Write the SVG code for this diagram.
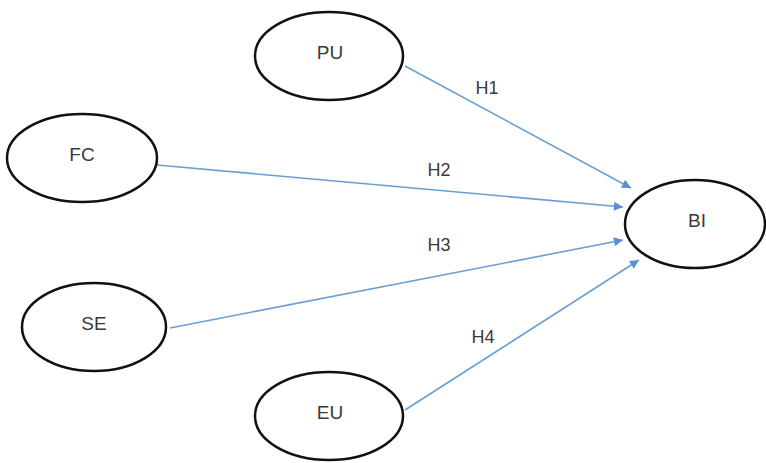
<svg xmlns="http://www.w3.org/2000/svg" width="766" height="463" viewBox="0 0 766 463">
<style>
.node ellipse{fill:#fff;stroke:#111;stroke-width:2.5}
.node text{font-family:"Liberation Sans","DejaVu Sans",sans-serif;font-size:19px;fill:#3a3a3a;text-anchor:middle;dominant-baseline:central}
.conn line{stroke:#6a9fd4;stroke-width:1.6;marker-end:url(#ah)}
.lbl{font-family:"Liberation Sans","DejaVu Sans",sans-serif;font-size:18px;fill:#3a3a3a;text-anchor:middle;dominant-baseline:central}
</style>
<defs>
<marker id="ah" viewBox="0 0 10 10" refX="10" refY="5" markerWidth="10" markerHeight="9" markerUnits="userSpaceOnUse" orient="auto">
<path d="M0,0 L10,5 L0,10 z" fill="#5b8fd0"/>
</marker>
</defs>
<rect width="766" height="463" fill="#fff"/>
<g id="connectors" class="conn">
<line x1="405" y1="66" x2="631" y2="188"/>
<line x1="157" y1="165" x2="623" y2="207"/>
<line x1="170" y1="328" x2="623" y2="240"/>
<line x1="405" y1="410" x2="639" y2="260"/>
</g>
<g id="labels">
<text class="lbl" x="487" y="88">H1</text>
<text class="lbl" x="439" y="170">H2</text>
<text class="lbl" x="439" y="245">H3</text>
<text class="lbl" x="483" y="337">H4</text>
</g>
<g id="PU" class="node"><ellipse cx="329" cy="56" rx="74" ry="44"/><text x="330" y="52">PU</text></g>
<g id="FC" class="node"><ellipse cx="82" cy="158" rx="75" ry="44"/><text x="82" y="154">FC</text></g>
<g id="SE" class="node"><ellipse cx="94" cy="327" rx="72" ry="44"/><text x="94" y="323">SE</text></g>
<g id="EU" class="node"><ellipse cx="329" cy="416" rx="74" ry="44"/><text x="330" y="412">EU</text></g>
<g id="BI" class="node"><ellipse cx="695" cy="224" rx="70" ry="44"/><text x="697" y="220">BI</text></g>
</svg>
